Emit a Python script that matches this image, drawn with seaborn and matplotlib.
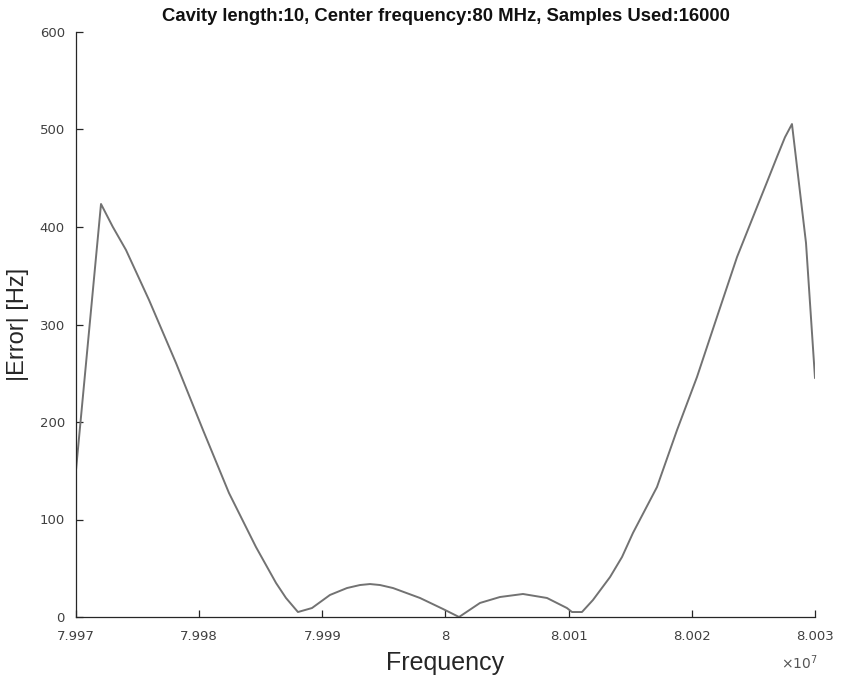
import matplotlib
matplotlib.use("Agg")
import matplotlib.pyplot as plt
import seaborn as sns
import pandas as pd

# Frequency in units of 1e7 Hz, |Error| in Hz
freq_e7 = [7.997000, 7.997203, 7.997298, 7.997406, 7.997593, 7.997812, 7.998031,
           7.998242, 7.998461, 7.998624, 7.998705, 7.998802, 7.998916, 7.999062,
           7.999200, 7.999306, 7.999387, 7.999468, 7.999574, 7.999793, 7.999980,
           8.000110, 8.000280, 8.000442, 8.000629, 8.000824, 8.000986, 8.001027,
           8.001108, 8.001197, 8.001336, 8.001433, 8.001522, 8.001717, 8.001880,
           8.002042, 8.002204, 8.002367, 8.002529, 8.002610, 8.002691, 8.002756,
           8.002813, 8.002927, 8.003000]
error_hz = [150.8, 423.6, 400.3, 376.4, 325.1, 260.5, 191.8,
            127.2, 71.8, 34.9, 19.5, 5.1, 9.2, 22.6,
            29.7, 32.8, 33.8, 32.8, 29.7, 19.5, 8.2,
            0.0, 14.4, 20.5, 23.6, 19.5, 9.2, 5.1,
            5.1, 17.4, 41.0, 61.5, 86.2, 133.3, 191.8,
            246.2, 307.7, 369.2, 420.5, 446.0, 471.8, 492.0,
            505.6, 383.6, 245.0]

x_ticks_e7 = [7.997, 7.998, 7.999, 8.0, 8.001, 8.002, 8.003]
x_tick_labels = ["7.997", "7.998", "7.999", "8", "8.001", "8.002", "8.003"]
y_ticks = [0, 100, 200, 300, 400, 500, 600]

title = "Cavity length:10, Center frequency:80 MHz, Samples Used:16000"

df = pd.DataFrame({"Frequency": [f * 1e7 for f in freq_e7], "Error": error_hz})

sns.set_style("ticks")
plt.rcParams["font.family"] = ["DejaVu Sans"]

fig = plt.figure(figsize=(8.41, 6.81), dpi=100)
ax = fig.add_axes([76 / 841, 1 - 617 / 681, (815 - 76) / 841, (617 - 32) / 681])

sns.lineplot(data=df, x="Frequency", y="Error", ax=ax, color="#727272",
             linewidth=1.4, sort=False)

ax.set_xlim(7.997e7, 8.003e7)
ax.set_ylim(0, 600)
ax.set_xticks([t * 1e7 for t in x_ticks_e7])
ax.set_xticklabels(x_tick_labels)
ax.set_yticks(y_ticks)

for s in ["top", "right"]:
    ax.spines[s].set_visible(False)
for s in ["left", "bottom"]:
    ax.spines[s].set_color("#262626")
    ax.spines[s].set_linewidth(0.9)

ax.tick_params(direction="in", length=5, width=0.9, colors="#262626",
               labelsize=9.5, labelcolor="#404040")
ax.tick_params(axis="x", pad=9)
ax.tick_params(axis="y", pad=8)

ax.set_xlabel("Frequency", fontsize=18, color="#262626", labelpad=6,
              family=["Liberation Sans", "DejaVu Sans"])
ax.set_ylabel("|Error| [Hz]", fontsize=17, color="#262626", labelpad=8,
              family=["Liberation Sans", "DejaVu Sans"])
ax.set_title(title, fontsize=13.3, fontweight="bold", color="#111111", pad=8,
             family=["Liberation Sans", "DejaVu Sans"])

fig.text(818 / 841, 1 - 663 / 681, r"$\times$10$^{7}$", fontsize=10,
         color="#555555", ha="right", va="center")

fig.savefig("out.png", dpi=100)
